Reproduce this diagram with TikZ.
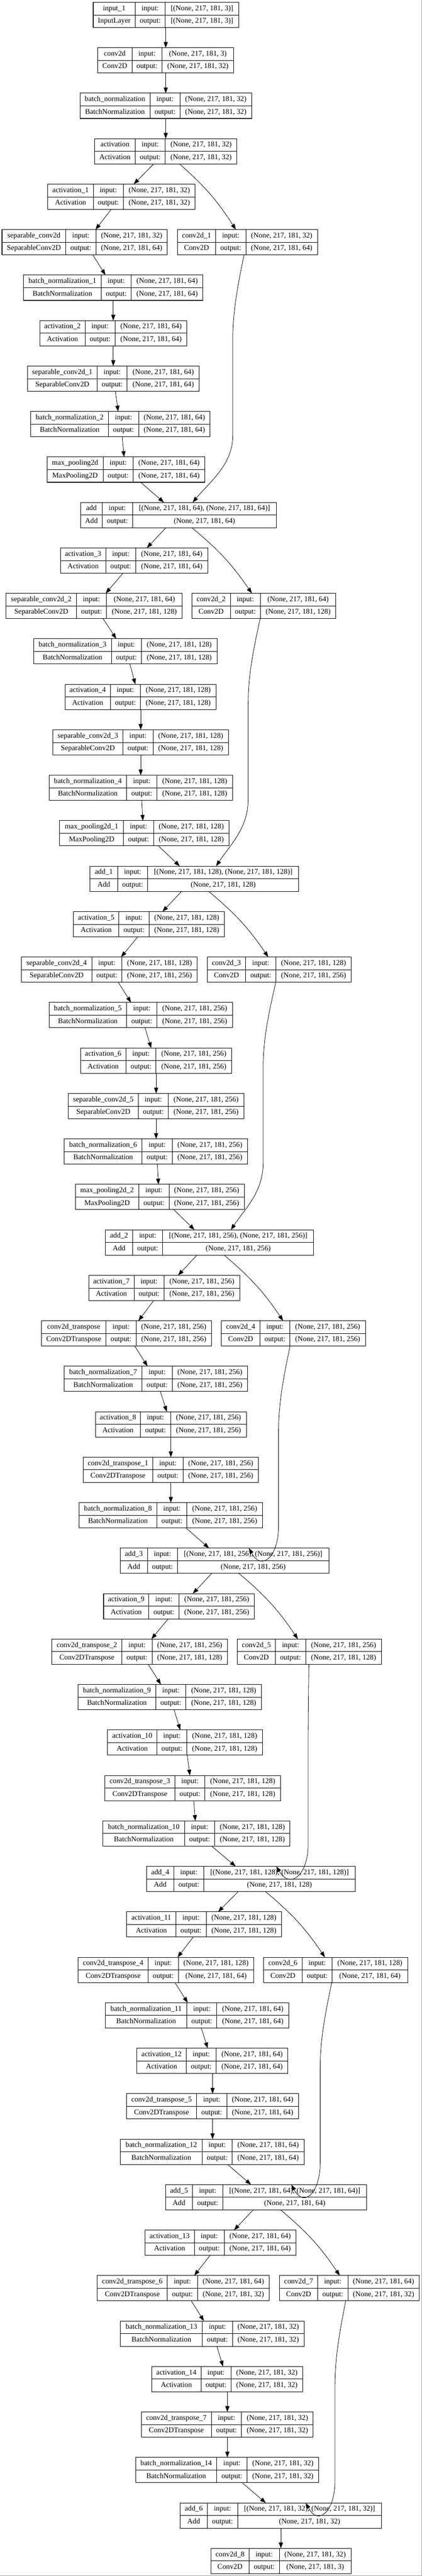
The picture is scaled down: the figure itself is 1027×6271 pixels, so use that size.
\documentclass[tikz,border=0pt]{standalone}
\usepackage{fontspec}
\setmainfont{Liberation Serif}
\usetikzlibrary{arrows.meta}

\newcommand{\shp}[1]{(None, 217, 181, #1)}

\tikzset{
	layerbox/.style={draw, line width=1.3pt, inner sep=0pt, outer sep=0pt, minimum height=61.5pt},
	cell/.style={font=\fontsize{17.9}{20}\selectfont, inner sep=0pt, text height=12.4pt, text depth=3.9pt},
	flow/.style={-{Triangle[length=14pt, width=10pt]}, line width=1pt},
}

% one layer: name, left, first split, right, rank, layer name, class, input, output
\newcommand{\kerasbox}[9]{%
	\pgfmathsetmacro{\ltop}{5.6+(#5-1)*110.68}%
	\pgfmathsetmacro{\lmid}{\ltop+30.75}%
	\pgfmathsetmacro{\lbot}{\ltop+61.5}%
	\pgfmathsetmacro{\lsplit}{#3+73.3}%
	\node[layerbox, minimum width={(#4-#2)*1pt}, anchor=north west] (#1) at (#2,\ltop) {};
	\draw[line width=1.1pt] (#3,\ltop) -- (#3,\lbot) (\lsplit,\ltop) -- (\lsplit,\lbot) (#2,\lmid) -- (#4,\lmid);
	\node[cell] at ({(#2+#3)/2},{\ltop+15.4}) {#6};
	\node[cell] at ({(#2+#3)/2},{\ltop+46.1}) {#7};
	\node[cell] at ({(#3+\lsplit)/2},{\ltop+15.4}) {input:};
	\node[cell] at ({(#3+\lsplit)/2},{\ltop+46.1}) {output:};
	\node[cell] at ({(\lsplit+#4)/2},{\ltop+15.4}) {#8};
	\node[cell] at ({(\lsplit+#4)/2},{\ltop+46.1}) {#9};
}

% long skip edge: source, target, x at source, x of the long run, x at target, rank of source
\newcommand{\resedge}[6]{%
	\pgfmathsetmacro{\ybot}{5.6+(#6-1)*110.68+61.5}%
	\pgfmathsetmacro{\cxa}{#3+0.6*(#4-#3)}%
	\pgfmathsetmacro{\cxb}{#5+0.45*(#4-#5)}%
	\draw[flow] (#3,0 |- #1.south) .. controls (\cxa,{\ybot+80}) and (#4,{\ybot+140}) .. (#4,{\ybot+210}) -- (#4,{\ybot+440}) .. controls (#4,{\ybot+510}) and (\cxb,{\ybot+550}) .. (#5,0 |- #2.north);
}

\begin{document}
\begin{tikzpicture}[x=1pt, y=-1pt]
	\useasboundingbox (0,0) rectangle (1027,6271);
	\draw[gray!75, line width=1.6pt] (1026.2,0) -- (1026.2,6270.2) -- (0,6270.2);

	% stem
	\kerasbox{in1}{227}{329}{581}{1}{input\_1}{InputLayer}{[\shp{3}]}{[\shp{3}]}
	\kerasbox{cv0}{238}{321}{569}{2}{conv2d}{Conv2D}{(None, 217, 181, 3)}{\shp{32}}
	\kerasbox{bn0}{194.5}{365}{612.5}{3}{batch\_normalization}{BatchNormalization}{\shp{32}}{\shp{32}}
	\kerasbox{act0}{230.5}{329}{576.5}{4}{activation}{Activation}{\shp{32}}{\shp{32}}

	% down block 1
	\kerasbox{act1}{116.5}{227}{475}{5}{activation\_1}{Activation}{\shp{32}}{\shp{32}}
	\kerasbox{sep0}{5}{160}{407.5}{6}{separable\_conv2d}{SeparableConv2D}{\shp{32}}{\shp{64}}
	\kerasbox{cv1}{432}{525}{773}{6}{conv2d\_1}{Conv2D}{\shp{32}}{\shp{64}}
	\kerasbox{bn1}{57.6}{246.2}{494}{7}{batch\_normalization\_1}{BatchNormalization}{\shp{64}}{\shp{64}}
	\kerasbox{act2}{97}{207}{455}{8}{activation\_2}{Activation}{\shp{64}}{\shp{64}}
	\kerasbox{sep1}{67}{236.4}{485}{9}{separable\_conv2d\_1}{SeparableConv2D}{\shp{64}}{\shp{64}}
	\kerasbox{bn2}{75}{264}{511.5}{10}{batch\_normalization\_2}{BatchNormalization}{\shp{64}}{\shp{64}}
	\kerasbox{mp0}{114.6}{251}{498.4}{11}{max\_pooling2d}{MaxPooling2D}{\shp{64}}{\shp{64}}
	\kerasbox{add0}{196}{249}{673}{12}{add}{Add}{[\shp{64}, \shp{64}]}{\shp{64}}

	% down block 2
	\kerasbox{act3}{147.3}{257.4}{505.6}{13}{activation\_3}{Activation}{\shp{64}}{\shp{64}}
	\kerasbox{sep2}{15}{186}{443.4}{14}{separable\_conv2d\_2}{SeparableConv2D}{\shp{64}}{\shp{128}}
	\kerasbox{cv2}{467}{560.6}{817.3}{14}{conv2d\_2}{Conv2D}{\shp{64}}{\shp{128}}
	\kerasbox{bn3}{82}{271}{528.5}{15}{batch\_normalization\_3}{BatchNormalization}{\shp{128}}{\shp{128}}
	\kerasbox{act4}{158.5}{268.5}{526}{16}{activation\_4}{Activation}{\shp{128}}{\shp{128}}
	\kerasbox{sep3}{128.4}{299.3}{556}{17}{separable\_conv2d\_3}{SeparableConv2D}{\shp{128}}{\shp{128}}
	\kerasbox{bn4}{119.2}{308.4}{566}{18}{batch\_normalization\_4}{BatchNormalization}{\shp{128}}{\shp{128}}
	\kerasbox{mp1}{145.4}{300.6}{557.3}{19}{max\_pooling2d\_1}{MaxPooling2D}{\shp{128}}{\shp{128}}
	\kerasbox{add1}{219.4}{286.2}{727}{20}{add\_1}{Add}{[\shp{128}, \shp{128}]}{\shp{128}}

	% down block 3
	\kerasbox{act5}{178.8}{289.5}{546.2}{21}{activation\_5}{Activation}{\shp{128}}{\shp{128}}
	\kerasbox{sep4}{52.4}{223.3}{480}{22}{separable\_conv2d\_4}{SeparableConv2D}{\shp{128}}{\shp{256}}
	\kerasbox{cv3}{504.3}{598}{855}{22}{conv2d\_3}{Conv2D}{\shp{128}}{\shp{256}}
	\kerasbox{bn5}{119.2}{308.4}{566}{23}{batch\_normalization\_5}{BatchNormalization}{\shp{256}}{\shp{256}}
	\kerasbox{act6}{195.8}{306.5}{564}{24}{activation\_6}{Activation}{\shp{256}}{\shp{256}}
	\kerasbox{sep5}{166.3}{336.6}{593.3}{25}{separable\_conv2d\_5}{SeparableConv2D}{\shp{256}}{\shp{256}}
	\kerasbox{bn6}{156.5}{345.8}{602.7}{26}{batch\_normalization\_6}{BatchNormalization}{\shp{256}}{\shp{256}}
	\kerasbox{mp2}{183.4}{338}{594.6}{27}{max\_pooling2d\_2}{MaxPooling2D}{\shp{256}}{\shp{256}}
	\kerasbox{add2}{256.7}{322.9}{763.6}{28}{add\_2}{Add}{[\shp{256}, \shp{256}]}{\shp{256}}

	% up block 1
	\kerasbox{act7}{216.1}{326.1}{583.5}{29}{activation\_7}{Activation}{\shp{256}}{\shp{256}}
	\kerasbox{ct0}{100.9}{258}{514.7}{30}{conv2d\_transpose}{Conv2DTranspose}{\shp{256}}{\shp{256}}
	\kerasbox{cv4}{539}{632.6}{889.3}{30}{conv2d\_4}{Conv2D}{\shp{256}}{\shp{256}}
	\kerasbox{bn7}{156.5}{345.8}{602.7}{31}{batch\_normalization\_7}{BatchNormalization}{\shp{256}}{\shp{256}}
	\kerasbox{act8}{232.5}{341.8}{599.9}{32}{activation\_8}{Activation}{\shp{256}}{\shp{256}}
	\kerasbox{ct1}{202.4}{372}{629.3}{33}{conv2d\_transpose\_1}{Conv2DTranspose}{\shp{256}}{\shp{256}}
	\kerasbox{bn8}{192.5}{381.8}{638.7}{34}{batch\_normalization\_8}{BatchNormalization}{\shp{256}}{\shp{256}}
	\kerasbox{add3}{292.7}{358.9}{800.3}{35}{add\_3}{Add}{[\shp{256}, \shp{256}]}{\shp{256}}

	% up block 2
	\kerasbox{act9}{252.1}{362.2}{619.5}{36}{activation\_9}{Activation}{\shp{256}}{\shp{256}}
	\kerasbox{ct2}{126.4}{296.7}{553.4}{37}{conv2d\_transpose\_2}{Conv2DTranspose}{\shp{256}}{\shp{128}}
	\kerasbox{cv5}{577.6}{670.6}{928.6}{37}{conv2d\_5}{Conv2D}{\shp{256}}{\shp{128}}
	\kerasbox{bn9}{190}{379.2}{636.6}{38}{batch\_normalization\_9}{BatchNormalization}{\shp{128}}{\shp{128}}
	\kerasbox{act10}{262}{381.8}{638.5}{39}{activation\_10}{Activation}{\shp{128}}{\shp{128}}
	\kerasbox{ct3}{255.4}{425.7}{682.4}{40}{conv2d\_transpose\_3}{Conv2DTranspose}{\shp{128}}{\shp{128}}
	\kerasbox{bn10}{250.8}{449.2}{706}{41}{batch\_normalization\_10}{BatchNormalization}{\shp{128}}{\shp{128}}
	\kerasbox{add4}{357}{423}{864.4}{42}{add\_4}{Add}{[\shp{128}, \shp{128}]}{\shp{128}}

	% up block 3
	\kerasbox{act11}{308.4}{428.3}{685.7}{43}{activation\_11}{Activation}{\shp{128}}{\shp{128}}
	\kerasbox{ct4}{190}{360.8}{617.5}{44}{conv2d\_transpose\_4}{Conv2DTranspose}{\shp{128}}{\shp{64}}
	\kerasbox{cv6}{641.8}{735.4}{992.1}{44}{conv2d\_6}{Conv2D}{\shp{128}}{\shp{64}}
	\kerasbox{bn11}{256.7}{454.5}{702.7}{45}{batch\_normalization\_11}{BatchNormalization}{\shp{64}}{\shp{64}}
	\kerasbox{act12}{333.3}{453.2}{700.7}{46}{activation\_12}{Activation}{\shp{64}}{\shp{64}}
	\kerasbox{ct5}{307.8}{478.7}{726.3}{47}{conv2d\_transpose\_5}{Conv2DTranspose}{\shp{64}}{\shp{64}}
	\kerasbox{bn12}{293.4}{491.8}{740}{48}{batch\_normalization\_12}{BatchNormalization}{\shp{64}}{\shp{64}}
	\kerasbox{add5}{402.7}{468.9}{892.6}{49}{add\_5}{Add}{[\shp{64}, \shp{64}]}{\shp{64}}

	% up block 4
	\kerasbox{act13}{353}{472.8}{720.4}{50}{activation\_13}{Activation}{\shp{64}}{\shp{64}}
	\kerasbox{ct6}{237}{407.3}{655.5}{51}{conv2d\_transpose\_6}{Conv2DTranspose}{\shp{64}}{\shp{32}}
	\kerasbox{cv7}{680.4}{773.4}{1020.3}{51}{conv2d\_7}{Conv2D}{\shp{64}}{\shp{32}}
	\kerasbox{bn13}{293.4}{492.5}{740}{52}{batch\_normalization\_13}{BatchNormalization}{\shp{32}}{\shp{32}}
	\kerasbox{act14}{369.4}{489.2}{736.7}{53}{activation\_14}{Activation}{\shp{32}}{\shp{32}}
	\kerasbox{ct7}{343.8}{514.7}{762.3}{54}{conv2d\_transpose\_7}{Conv2DTranspose}{\shp{32}}{\shp{32}}
	\kerasbox{bn14}{330}{527.8}{776}{55}{batch\_normalization\_14}{BatchNormalization}{\shp{32}}{\shp{32}}
	\kerasbox{add6}{438.1}{505}{928.6}{56}{add\_6}{Add}{[\shp{32}, \shp{32}]}{\shp{32}}
	\kerasbox{cv8}{513.4}{606.4}{854.6}{57}{conv2d\_8}{Conv2D}{\shp{32}}{(None, 217, 181, 3)}

	% main path
	\draw[flow] (403.4,0 |- in1.south) -- (403.4,0 |- cv0.north);
	\draw[flow] (403.4,0 |- cv0.south) -- (403.4,0 |- bn0.north);
	\draw[flow] (403.4,0 |- bn0.south) -- (403.4,0 |- act0.north);
	\draw[flow] (374,0 |- act0.south) -- (325.5,0 |- act1.north);
	\draw[flow] (270.5,0 |- act1.south) -- (232.5,0 |- sep0.north);
	\draw[flow] (226,0 |- sep0.south) -- (256.7,0 |- bn1.north);
	\draw[flow] (275.7,0 |- bn1.south) -- (275.7,0 |- act2.north);
	\draw[flow] (275.7,0 |- act2.south) -- (275.7,0 |- sep1.north);
	\draw[flow] (281,0 |- sep1.south) -- (287.5,0 |- bn2.north);
	\draw[flow] (297.3,0 |- bn2.south) -- (302,0 |- mp0.north);
	\draw[flow] (342,0 |- mp0.south) -- (399,0 |- add0.north);
	\draw[flow] (404,0 |- add0.south) -- (357.6,0 |- act3.north);
	\draw[flow] (299.3,0 |- act3.south) -- (257.4,0 |- sep2.north);
	\draw[flow] (250.8,0 |- sep2.south) -- (283,0 |- bn3.north);
	\draw[flow] (316.3,0 |- bn3.south) -- (329.4,0 |- act4.north);
	\draw[flow] (342.5,0 |- act4.south) -- (342.5,0 |- sep3.north);
	\draw[flow] (342.5,0 |- sep3.south) -- (342.5,0 |- bn4.north);
	\draw[flow] (345,0 |- bn4.south) -- (347.7,0 |- mp1.north);
	\draw[flow] (385.7,0 |- mp1.south) -- (437.5,0 |- add1.north);
	\draw[flow] (442,0 |- add1.south) -- (395.5,0 |- act5.north);
	\draw[flow] (335.3,0 |- act5.south) -- (294.7,0 |- sep4.north);
	\draw[flow] (288,0 |- sep4.south) -- (319,0 |- bn5.north);
	\draw[flow] (353,0 |- bn5.south) -- (368,0 |- act6.north);
	\draw[flow] (380,0 |- act6.south) -- (380,0 |- sep5.north);
	\draw[flow] (380,0 |- sep5.south) -- (380,0 |- bn6.north);
	\draw[flow] (383,0 |- bn6.south) -- (385.7,0 |- mp2.north);
	\draw[flow] (423,0 |- mp2.south) -- (473.5,0 |- add2.north);
	\draw[flow] (479.4,0 |- add2.south) -- (433.5,0 |- act7.north);
	\draw[flow] (374,0 |- act7.south) -- (337,0 |- ct0.north);
	\draw[flow] (328,0 |- ct0.south) -- (359,0 |- bn7.north);
	\draw[flow] (390.3,0 |- bn7.south) -- (406,0 |- act8.north);
	\draw[flow] (415.8,0 |- act8.south) -- (415.8,0 |- ct1.north);
	\draw[flow] (415.8,0 |- ct1.south) -- (415.8,0 |- bn8.north);
	\draw[flow] (452.5,0 |- bn8.south) -- (508.8,0 |- add3.north);
	\draw[flow] (515.4,0 |- add3.south) -- (469.5,0 |- act9.north);
	\draw[flow] (409.3,0 |- act9.south) -- (368.7,0 |- ct2.north);
	\draw[flow] (360.8,0 |- ct2.south) -- (391.6,0 |- bn9.north);
	\draw[flow] (423.7,0 |- bn9.south) -- (438.8,0 |- act10.north);
	\draw[flow] (455.8,0 |- act10.south) -- (462.3,0 |- ct3.north);
	\draw[flow] (471.5,0 |- ct3.south) -- (475.4,0 |- bn10.north);
	\draw[flow] (515.4,0 |- bn10.south) -- (573.7,0 |- add4.north);
	\draw[flow] (579.6,0 |- add4.south) -- (531,0 |- act11.north);
	\draw[flow] (470.2,0 |- act11.south) -- (432.2,0 |- ct4.north);
	\draw[flow] (425.7,0 |- ct4.south) -- (457,0 |- bn11.north);
	\draw[flow] (489.8,0 |- bn11.south) -- (505.6,0 |- act12.north);
	\draw[flow] (517.4,0 |- act12.south) -- (517.4,0 |- ct5.north);
	\draw[flow] (517.4,0 |- ct5.south) -- (517.4,0 |- bn12.north);
	\draw[flow] (554,0 |- bn12.south) -- (611,0 |- add5.north);
	\draw[flow] (616.2,0 |- add5.south) -- (569.7,0 |- act13.north);
	\draw[flow] (511.5,0 |- act13.south) -- (472.8,0 |- ct6.north);
	\draw[flow] (465.6,0 |- ct6.south) -- (496.4,0 |- bn13.north);
	\draw[flow] (527.8,0 |- bn13.south) -- (543,0 |- act14.north);
	\draw[flow] (553.4,0 |- act14.south) -- (553.4,0 |- ct7.north);
	\draw[flow] (553.4,0 |- ct7.south) -- (553.4,0 |- bn14.north);
	\draw[flow] (589.4,0 |- bn14.south) -- (647,0 |- add6.north);
	\draw[flow] (683.7,0 |- add6.south) -- (683.7,0 |- cv8.north);

	% branches into the residual convolutions
	\draw[flow] (437,0 |- act0.south) to[bend left=8] (574,0 |- cv1.north);
	\draw[flow] (467,0 |- add0.south) to[bend left=8] (613,0 |- cv2.north);
	\draw[flow] (508,0 |- add1.south) to[bend left=8] (653,0 |- cv3.north);
	\draw[flow] (545.5,0 |- add2.south) to[bend left=8] (689,0 |- cv4.north);
	\draw[flow] (581.5,0 |- add3.south) to[bend left=8] (725,0 |- cv5.north);
	\draw[flow] (646.4,0 |- add4.south) to[bend left=8] (791,0 |- cv6.north);
	\draw[flow] (683,0 |- add5.south) to[bend left=8] (827,0 |- cv7.north);

	% residual convolutions back into the adds
	\resedge{cv1}{add0}{594}{566.5}{469}{6}
	\resedge{cv2}{add1}{633.3}{604}{526}{14}
	\resedge{cv3}{add2}{671.3}{640.5}{562}{22}
	\resedge{cv4}{add3}{706}{678}{605.8}{30}
	\resedge{cv5}{add4}{751.8}{750}{672.6}{37}
	\resedge{cv6}{add5}{807.5}{779.3}{709.2}{44}
	\resedge{cv7}{add6}{841.5}{815.3}{744}{51}
\end{tikzpicture}
\end{document}
